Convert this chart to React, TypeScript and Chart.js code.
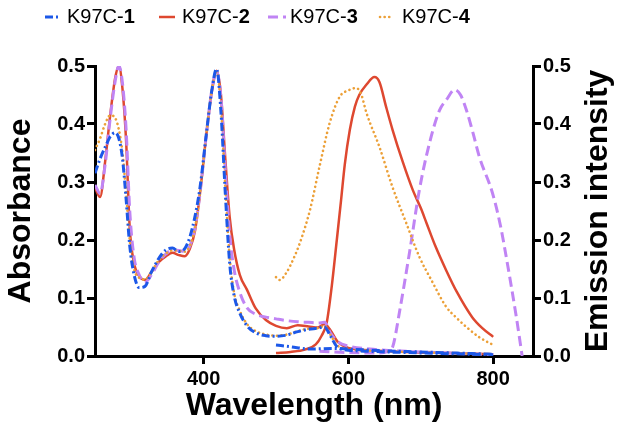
import React, { useEffect, useRef } from "react";
import { Chart, registerables } from "chart.js";

Chart.register(...registerables);

// ---------- data ----------
const seriesNames = ["K97C-1", "K97C-2", "K97C-3", "K97C-4"];

// absorbance (left axis)
const absWavelengths = [
  250, 257, 264, 271, 278, 283, 288, 293, 298, 304, 311, 319, 328, 338, 348, 357, 366, 374, 381, 388,
  395, 404, 411, 418, 424, 430, 436, 442, 450, 460, 472, 486, 500, 515, 530, 545, 558, 567, 575, 585,
  600, 630, 680, 740, 800,
];
const abs1 = [
  0.315, 0.34, 0.36, 0.378, 0.385, 0.375, 0.34, 0.27, 0.19, 0.14, 0.118, 0.12, 0.145, 0.168, 0.183, 0.186, 0.18, 0.185, 0.205, 0.24,
  0.29, 0.385, 0.455, 0.495, 0.42, 0.28, 0.16, 0.105, 0.074, 0.052, 0.04, 0.035, 0.034, 0.036, 0.042, 0.046, 0.048, 0.05, 0.035, 0.015,
  0.01, 0.008, 0.006, 0.004, 0.002,
];
const abs2 = [
  0.29, 0.274, 0.335, 0.415, 0.48, 0.5, 0.46, 0.37, 0.22, 0.16, 0.138, 0.131, 0.145, 0.162, 0.172, 0.178, 0.174, 0.172, 0.185, 0.215,
  0.28, 0.384, 0.453, 0.492, 0.45, 0.34, 0.24, 0.185, 0.14, 0.114, 0.082, 0.062, 0.052, 0.048, 0.053, 0.051, 0.049, 0.055, 0.045, 0.025,
  0.014, 0.01, 0.007, 0.005, 0.003,
];
const abs3 = [
  0.295, 0.28, 0.33, 0.41, 0.475, 0.5, 0.47, 0.39, 0.25, 0.17, 0.14, 0.127, 0.14, 0.162, 0.176, 0.183, 0.182, 0.18, 0.19, 0.22,
  0.28, 0.384, 0.455, 0.49, 0.445, 0.32, 0.21, 0.15, 0.11, 0.083, 0.072, 0.067, 0.064, 0.061, 0.059, 0.058, 0.057, 0.058, 0.04, 0.025,
  0.017, 0.012, 0.008, 0.005, 0.002,
];
const abs4 = [
  0.355, 0.375, 0.4, 0.415, 0.41, 0.39, 0.35, 0.28, 0.2, 0.15, 0.135, 0.132, 0.145, 0.165, 0.177, 0.182, 0.181, 0.18, 0.19, 0.22,
  0.28, 0.384, 0.455, 0.49, 0.43, 0.29, 0.17, 0.11, 0.078, 0.055, 0.043, 0.037, 0.035, 0.037, 0.043, 0.047, 0.048, 0.052, 0.037, 0.018,
  0.012, 0.009, 0.007, 0.005, 0.003,
];

// emission (right axis)
const em1X = [500, 520, 547, 580, 600, 650, 700, 750, 800];
const em1Y = [0.019, 0.016, 0.012, 0.013, 0.012, 0.009, 0.007, 0.005, 0.003];
const em2X = [500, 520, 540, 555, 563, 570, 577, 584, 590, 595, 602, 609, 615, 625, 636, 643, 652, 661, 675, 689, 700, 708, 720, 735, 750, 771, 785, 800];
const em2Y = [0.005, 0.007, 0.011, 0.02, 0.035, 0.057, 0.12, 0.2, 0.27, 0.33, 0.39, 0.43, 0.45, 0.468, 0.481, 0.472, 0.43, 0.39, 0.335, 0.286, 0.255, 0.229, 0.19, 0.148, 0.11, 0.067, 0.048, 0.033];
const em3X = [560, 600, 640, 655, 661, 671, 685, 698, 712, 726, 735, 747, 755, 763, 772, 781, 799, 810, 818, 832, 840];
const em3Y = [0.008, 0.006, 0.005, 0.008, 0.015, 0.079, 0.183, 0.286, 0.367, 0.424, 0.441, 0.459, 0.45, 0.424, 0.385, 0.343, 0.281, 0.225, 0.171, 0.067, 0.0];
const em4X = [500, 505, 515, 525, 533, 547, 560, 574, 588, 600, 611, 618, 625, 643, 661, 680, 698, 715, 735, 750, 763, 780, 800];
const em4Y = [0.136, 0.131, 0.145, 0.17, 0.195, 0.252, 0.326, 0.401, 0.447, 0.458, 0.462, 0.45, 0.419, 0.36, 0.291, 0.229, 0.171, 0.13, 0.085, 0.065, 0.05, 0.033, 0.019];

const xTickValues = [400, 600, 800];
const yTickLabels = ["0.0", "0.1", "0.2", "0.3", "0.4", "0.5"];

// ---------- styles ----------
const FONT = "'Liberation Sans', Arial, Helvetica, sans-serif";
const BLUE = "rgb(28, 88, 232)";
const RED = "rgb(222, 72, 48)";
const PURPLE = "rgb(192, 132, 244)";
const ORANGE = "rgb(236, 160, 56)";

const styles = [
  { color: BLUE, dash: [8, 3, 2, 3], width: 3, cap: "butt", order: 1 },
  { color: RED, dash: [], width: 2.5, cap: "butt", order: 4 },
  { color: PURPLE, dash: [10, 5], width: 3, cap: "butt", order: 3 },
  { color: ORANGE, dash: [0.1, 4.5], width: 2.6, cap: "round", order: 2 },
];

const toPts = (xs: number[], ys: number[]) => xs.map((x, i) => ({ x, y: ys[i] }));

const absSeries = [abs1, abs2, abs3, abs4];
const emSeries = [
  toPts(em1X, em1Y),
  toPts(em2X, em2Y),
  toPts(em3X, em3Y),
  toPts(em4X, em4Y),
];

const legendLayout = [
  { x1: 45, x2: 59, tx: 67 },
  { x1: 159, x2: 175, tx: 182 },
  { x1: 268, x2: 286, tx: 290 },
  { x1: 380, x2: 393, tx: 402 },
];

const customPlugin = {
  id: "customDecor",
  afterDraw(chart: any) {
    const ctx = chart.ctx as CanvasRenderingContext2D;
    ctx.save();
    // legend
    const ly = 17;
    seriesNames.forEach((name, i) => {
      const st = styles[i];
      const L = legendLayout[i];
      ctx.beginPath();
      ctx.strokeStyle = st.color;
      ctx.lineWidth = st.width;
      ctx.lineCap = st.cap as CanvasLineCap;
      ctx.setLineDash(st.dash);
      ctx.moveTo(L.x1, ly);
      ctx.lineTo(L.x2, ly);
      ctx.stroke();
      ctx.setLineDash([]);
      const dashIdx = name.lastIndexOf("-");
      const pre = name.slice(0, dashIdx + 1);
      const num = name.slice(dashIdx + 1);
      ctx.fillStyle = "#000";
      ctx.textBaseline = "middle";
      ctx.textAlign = "left";
      ctx.font = `20px ${FONT}`;
      ctx.fillText(pre, L.tx, ly);
      const w = ctx.measureText(pre).width;
      ctx.font = `bold 20px ${FONT}`;
      ctx.fillText(num, L.tx + w, ly);
    });
    // right axis title
    ctx.translate(598, 211);
    ctx.rotate(-Math.PI / 2);
    ctx.font = `bold 32px ${FONT}`;
    ctx.textAlign = "center";
    ctx.textBaseline = "middle";
    ctx.fillStyle = "#000";
    ctx.fillText("Emission intensity", 0, 0);
    ctx.restore();
  },
};

export default function App() {
  const ref = useRef<HTMLCanvasElement>(null);
  useEffect(() => {
    document.body.style.margin = "0";
    if (!ref.current) return;
    const datasets: any[] = [];
    seriesNames.forEach((name, i) => {
      const st = styles[i];
      const common = {
        borderColor: st.color,
        backgroundColor: st.color,
        borderWidth: st.width,
        borderDash: st.dash,
        borderCapStyle: st.cap,
        pointRadius: 0,
        fill: false,
        cubicInterpolationMode: "monotone",
        order: st.order,
      };
      datasets.push({
        ...common,
        label: name + " absorbance",
        data: toPts(absWavelengths, absSeries[i]),
        yAxisID: "y",
      });
      datasets.push({
        ...common,
        label: name + " emission",
        data: emSeries[i],
        yAxisID: "y2",
      });
    });

    const tickFont = { family: FONT, size: 20, weight: "bold" as const };
    const gridOpts = {
      display: true,
      drawOnChartArea: false,
      drawTicks: true,
      tickLength: 8,
      lineWidth: 3,
      color: "#000",
      tickColor: "#000",
    };
    const borderOpts = { display: true, width: 3, color: "#000" };

    const chart = new Chart(ref.current, {
      type: "line",
      data: { datasets },
      plugins: [customPlugin],
      options: {
        animation: false,
        responsive: false,
        devicePixelRatio: 1,
        layout: { padding: { top: 66, left: 0, right: 0, bottom: 0 } },
        plugins: { legend: { display: false }, tooltip: { enabled: false } },
        scales: {
          x: {
            type: "linear",
            min: 250,
            max: 855,
            grid: gridOpts,
            border: borderOpts,
            afterBuildTicks: (s: any) => {
              s.ticks = xTickValues.map((v) => ({ value: v }));
            },
            afterFit: (s: any) => {
              s.height = 77;
            },
            ticks: { font: tickFont, color: "#000", padding: 3, maxRotation: 0 },
            title: {
              display: true,
              text: "Wavelength (nm)",
              font: { family: FONT, size: 32, weight: "bold" },
              color: "#000",
              padding: { top: 0, bottom: 8 },
            },
          },
          y: {
            type: "linear",
            position: "left",
            min: 0,
            max: 0.5,
            grid: gridOpts,
            border: borderOpts,
            afterFit: (s: any) => {
              s.width = 95;
            },
            ticks: {
              stepSize: 0.1,
              font: tickFont,
              color: "#000",
              padding: 2,
              callback: (v: any) => yTickLabels[Math.round(Number(v) * 10)] ?? "",
            },
            title: {
              display: true,
              text: "Absorbance",
              font: { family: FONT, size: 32, weight: "bold" },
              color: "#000",
              padding: { top: 2, bottom: 0 },
            },
          },
          y2: {
            type: "linear",
            position: "right",
            min: 0,
            max: 0.5,
            grid: gridOpts,
            border: borderOpts,
            afterFit: (s: any) => {
              s.width = 91;
            },
            ticks: {
              stepSize: 0.1,
              font: tickFont,
              color: "#000",
              padding: 2,
              callback: (v: any) => yTickLabels[Math.round(Number(v) * 10)] ?? "",
            },
          },
        },
      } as any,
    });
    return () => chart.destroy();
  }, []);
  return (
    <div style={{ width: 624, height: 433 }}>
      <canvas ref={ref} width={624} height={433} style={{ display: "block" }} />
    </div>
  );
}
